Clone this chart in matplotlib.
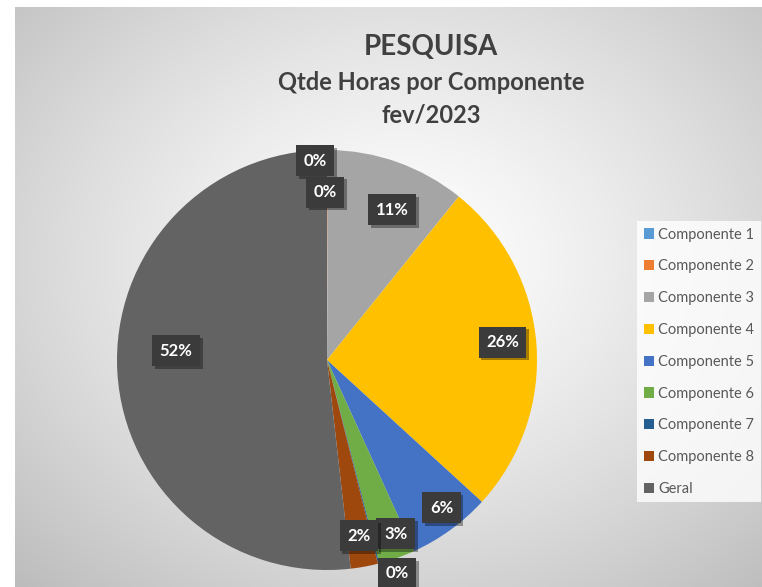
import numpy as np
import matplotlib
matplotlib.use("Agg")
import matplotlib.pyplot as plt
import matplotlib.patheffects as pe
from matplotlib.patches import Patch

plt.rcParams['font.family'] = ['Lato', 'DejaVu Sans']

# ---- data ----
categories = ["Componente 1", "Componente 2", "Componente 3", "Componente 4",
              "Componente 5", "Componente 6", "Componente 7", "Componente 8", "Geral"]
values = [0.05, 0.05, 10.7, 26.0, 6.4, 2.8, 0.1, 2.1, 51.8]
colors = ["#5B9BD5", "#ED7D31", "#A5A5A5", "#FFC000", "#4472C4",
          "#70AD47", "#255E91", "#9E480E", "#636363"]
title_lines = ["PESQUISA", "Qtde Horas por Componente", "fev/2023"]

# label placement (style): radius fraction and angle offset in degrees
label_r = [0.95, 0.80, 0.78, 0.84, 0.89, 0.89, 1.07, 0.85, 0.72]
label_dang = [3.5, 1.0, -3.7, 1.5, 1.8, 2.1, 4.0, 0.0, -6.7]

W, H = 762, 587
fig = plt.figure(figsize=(W / 100, H / 100), dpi=100)
fig.patch.set_facecolor("white")

# ---- background gradient ----
bg = fig.add_axes([15 / W, 0, (W - 15) / W, (H - 7) / H])
bg.set_axis_off()
nx, ny = 400, 300
xx, yy = np.meshgrid(np.linspace(15, W, nx), np.linspace(7, H, ny))
cx, cy = 400, 260
d = np.sqrt(((xx - cx) / 520) ** 2 + ((yy - cy) / 420) ** 2)
val = 1 - 0.24 * np.clip(d, 0, 1.2) ** 1.3
img = np.dstack([val, val, val])
bg.imshow(img, aspect="auto", extent=[0, 1, 0, 1], origin="upper")
bg.set_xlim(0, 1)
bg.set_ylim(0, 1)

# ---- pie ----
pcx, pcy, pr = 327, 360, 210
ax = fig.add_axes([(pcx - pr) / W, (H - pcy - pr) / H, 2 * pr / W, 2 * pr / H])
ax.set_axis_off()
wedges, _ = ax.pie(values, colors=colors, startangle=90, counterclock=False,
                   radius=1, wedgeprops=dict(linewidth=0))
ax.set_xlim(-1, 1)
ax.set_ylim(-1, 1)

total = sum(values)
cum = 0
for i, v in enumerate(values):
    mid = 90 - 360 * (cum + v / 2) / total + label_dang[i]
    cum += v
    rr = label_r[i]
    x = rr * np.cos(np.radians(mid))
    y = rr * np.sin(np.radians(mid))
    pct = 100 * v / total
    t = ax.text(x, y, f"{pct:.0f}%", ha="center", va="center", color="white",
                fontsize=12, fontweight="bold", clip_on=False, zorder=5,
                bbox=dict(boxstyle="square,pad=0.45", facecolor="#3b3b3b",
                          edgecolor="none"))
    t.get_bbox_patch().set_path_effects(
        [pe.SimplePatchShadow(offset=(2, -2), shadow_rgbFace="#000000", alpha=0.35),
         pe.Normal()])

# ---- titles ----
fig.text(431 / W, 1 - 47 / H, title_lines[0], ha="center", va="center",
         fontsize=20, fontweight="bold", color="#404040")
fig.text(431 / W, 1 - 83 / H, title_lines[1], ha="center", va="center",
         fontsize=17, fontweight="bold", color="#404040")
fig.text(431 / W, 1 - 115 / H, title_lines[2], ha="center", va="center",
         fontsize=17, fontweight="bold", color="#404040")

# ---- legend ----
handles = [Patch(facecolor=c, edgecolor="none") for c in colors]
leg = fig.legend(handles, categories, loc="upper left",
                 bbox_to_anchor=(637 / W, 1 - 221 / H), frameon=True,
                 fancybox=False, fontsize=10.5, labelspacing=1.22,
                 handlelength=0.7, handleheight=0.7, handletextpad=0.3,
                 borderpad=0.45, borderaxespad=0)
leg.get_frame().set_facecolor((1, 1, 1, 0.2))
leg.get_frame().set_edgecolor("none")
for txt in leg.get_texts():
    txt.set_color("#595959")

fig.savefig("out.png", dpi=100)
